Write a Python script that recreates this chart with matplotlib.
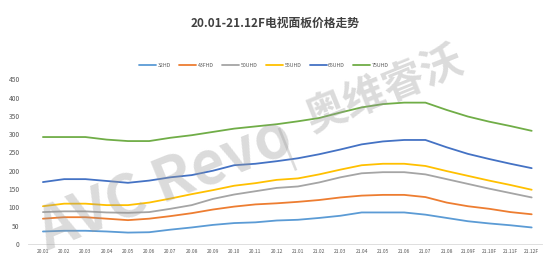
import matplotlib
matplotlib.use("Agg")
import matplotlib.pyplot as plt
import numpy as np

plt.rcParams['font.family'] = ['Noto Sans CJK SC', 'DejaVu Sans']

months = ["20.01", "20.02", "20.03", "20.04", "20.05", "20.06", "20.07", "20.08",
          "20.09", "20.10", "20.11", "20.12", "21.01", "21.02", "21.03", "21.04",
          "21.05", "21.06", "21.07", "21.08", "21.09F", "21.10F", "21.11F", "21.12F"]

hd32 = [34, 36, 36, 34, 31, 32, 39, 45, 52, 57, 59, 64, 66, 71, 77, 86, 86, 86, 80, 71, 62, 56, 51, 45]
fhd43 = [69, 73, 73, 69, 65, 69, 76, 84, 94, 102, 108, 111, 115, 120, 127, 132, 134, 134, 128, 113, 103, 96, 87, 81]
uhd50 = [87, 89, 89, 86, 85, 87, 96, 106, 123, 135, 144, 153, 157, 168, 182, 193, 196, 196, 190, 177, 164, 151, 139, 127]
uhd55 = [103, 110, 110, 106, 106, 113, 124, 136, 147, 159, 166, 175, 179, 190, 203, 215, 219, 219, 213, 199, 186, 173, 161, 148]
uhd65 = [169, 177, 177, 172, 167, 173, 182, 188, 200, 215, 219, 226, 234, 245, 258, 272, 280, 284, 284, 264, 246, 232, 219, 207]
uhd75 = [292, 292, 292, 285, 281, 281, 290, 297, 306, 315, 321, 327, 335, 344, 359, 373, 382, 386, 386, 366, 348, 334, 322, 309]

series_names = ["32HD", "43FHD", "50UHD", "55UHD", "65UHD", "75UHD"]
series_data = [hd32, fhd43, uhd50, uhd55, uhd65, uhd75]
colors = ["#5B9BD5", "#ED7D31", "#A5A5A5", "#FFC000", "#4472C4", "#70AD47"]

fig = plt.figure(figsize=(5.5, 2.64), dpi=100)

# watermark (behind the chart)
fig.text(0.30, 0.30, "AVC Revo", fontsize=42, fontweight="bold", color="#999999",
         alpha=0.35, rotation=22, ha="center", va="center", zorder=0)
fig.text(0.523, 0.44, "|", fontsize=30, color="#999999",
         alpha=0.35, rotation=22, ha="center", va="center", zorder=0)
fig.text(0.70, 0.66, "奥维睿沃", fontsize=30, fontweight="bold", color="#999999",
         alpha=0.35, rotation=22, ha="center", va="center", zorder=0)

ax = fig.add_axes([0.051, 0.076, 0.935, 0.624])
ax.patch.set_alpha(0)

x = np.arange(len(months))
for name, vals, c in zip(series_names, series_data, colors):
    ax.plot(x, vals, color=c, lw=1.3, label=name, solid_capstyle='round')

ax.set_xlim(-0.7, len(months) - 0.5)
ax.set_ylim(0, 450)
ax.set_yticks(np.arange(0, 451, 50))
ax.set_xticks(x)
ax.set_xticklabels(months, fontsize=3.6, color="#595959")
ax.tick_params(axis='y', labelsize=4.8, colors="#595959", length=0, pad=6)
ax.tick_params(axis='x', length=0, pad=4)
for s in ["top", "right", "left"]:
    ax.spines[s].set_visible(False)
ax.spines["bottom"].set_color("#D9D9D9")
ax.spines["bottom"].set_linewidth(0.6)

fig.text(0.5, 0.913, "20.01-21.12F电视面板价格走势", ha="center", va="center",
         fontsize=8.5, fontweight="bold", color="#404040")

leg = fig.legend(loc="center", bbox_to_anchor=(0.48, 0.752), ncol=6, frameon=False,
                 fontsize=3.8, handlelength=3.2, columnspacing=1.6, handletextpad=0.3)
for t in leg.get_texts():
    t.set_color("#595959")

fig.savefig("out.png", dpi=100)
